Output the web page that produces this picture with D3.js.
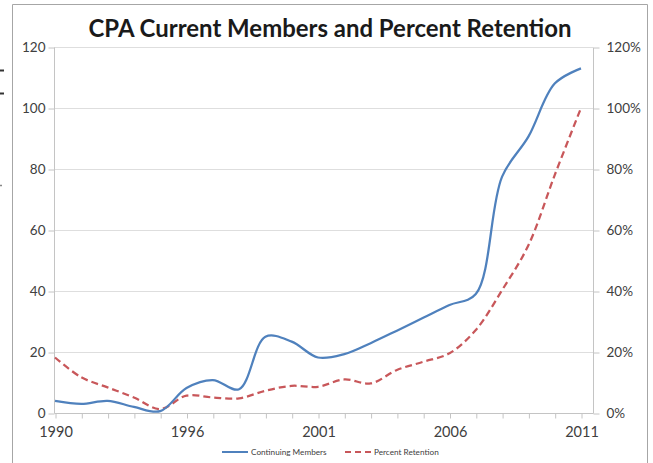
<!DOCTYPE html>
<html>
<head>
<meta charset="utf-8">
<script src="https://cdn.jsdelivr.net/npm/d3@7"></script>
<style>
  html, body { margin: 0; padding: 0; background: #fff; }
  svg { display: block; }
  text { font-family: Lato, "Open Sans", "Liberation Sans", sans-serif; }
</style>
</head>
<body>
<svg id="chart" width="653" height="463"></svg>
<script>
// Category years (one year skipped between 1990 and 1996)
const years = [1990, 1991, 1992, 1993, 1994, 1996, 1997, 1998, 1999, 2000, 2001,
               2002, 2003, 2004, 2005, 2006, 2007, 2008, 2009, 2010, 2011];
// Continuing members (left axis)
const members = [4.0, 3.0, 4.0, 2.0, 0.6, 8.2, 10.8, 7.8, 25.0, 23.4, 18.2,
                 19.3, 22.9, 27.0, 31.2, 35.4, 39.0, 77.5, 90.6, 108.0, 113.0];
// Percent retention (right axis, %)
const retention = [18.2, 11.7, 8.4, 5.1, 1.3, 5.7, 5.1, 4.8, 7.3, 8.9, 8.6,
                   11.0, 9.7, 14.1, 16.8, 19.6, 27.2, 40.3, 55.0, 78.0, 100.0];
const leftTicks = [0, 20, 40, 60, 80, 100, 120];
const rightTicks = [0, 20, 40, 60, 80, 100, 120];
const labelEvery = 5;
const titleText = "CPA Current Members and Percent Retention";
const seriesNames = ["Continuing Members", "Percent Retention"];

const svg = d3.select("#chart");
const plot = { left: 54, right: 593, top: 47, bottom: 413 };

// outer chart frame
svg.append("path")
  .attr("d", `M12.5,${463} V4.5 H647.5 V463`)
  .attr("fill", "none").attr("stroke", "#a6a6a6").attr("stroke-width", 1);

// small marks at the far left edge
svg.append("line").attr("x1", 0).attr("x2", 4).attr("y1", 70.5).attr("y2", 70.5)
  .attr("stroke", "#333").attr("stroke-width", 2);
svg.append("line").attr("x1", 0).attr("x2", 4).attr("y1", 93.5).attr("y2", 93.5)
  .attr("stroke", "#333").attr("stroke-width", 2);
svg.append("line").attr("x1", 0).attr("x2", 2).attr("y1", 185.5).attr("y2", 185.5)
  .attr("stroke", "#888").attr("stroke-width", 1.5);

const x = d3.scaleLinear().domain([0, years.length - 1]).range([55, 581]);
const yL = d3.scaleLinear().domain([0, 120]).range([plot.bottom, plot.top]);
const yR = d3.scaleLinear().domain([0, 120]).range([plot.bottom, plot.top]);

// gridlines
svg.append("g")
  .selectAll("line").data(leftTicks.filter(d => d > 0)).join("line")
  .attr("x1", plot.left).attr("x2", plot.right)
  .attr("y1", d => Math.round(yL(d)) + 0.5).attr("y2", d => Math.round(yL(d)) + 0.5)
  .attr("stroke", "#dedede").attr("stroke-width", 1);

// left axis
const gl = svg.append("g").attr("transform", `translate(${plot.left + 0.5},0.5)`)
  .call(d3.axisLeft(yL).tickValues(leftTicks).tickSize(6).tickPadding(3).tickFormat(d3.format("d")));
gl.select(".domain").attr("stroke", "#c4c4c4").attr("d", `M0,${plot.top}V${plot.bottom}`);
gl.selectAll(".tick line").attr("stroke", "#c4c4c4");
gl.selectAll(".tick text").attr("fill", "#404040").style("font-size", "13.5px");

// right axis
const gr = svg.append("g").attr("transform", `translate(${plot.right + 0.5},0.5)`)
  .call(d3.axisRight(yR).tickValues(rightTicks).tickSize(6).tickPadding(7).tickFormat(d => d + "%"));
gr.select(".domain").attr("stroke", "#c4c4c4").attr("d", `M0,${plot.top}V${plot.bottom}`);
gr.selectAll(".tick line").attr("stroke", "#c4c4c4");
gr.selectAll(".tick text").attr("fill", "#404040").style("font-size", "13.5px");

// bottom axis
const gb = svg.append("g").attr("transform", `translate(0.5,${plot.bottom + 0.5})`)
  .call(d3.axisBottom(x).tickValues(d3.range(years.length)).tickSize(5).tickPadding(8)
    .tickFormat(i => i % labelEvery === 0 ? years[i] : ""));
gb.select(".domain").attr("stroke", "#c4c4c4").attr("d", `M${plot.left},0H${plot.right}`);
gb.selectAll(".tick line").attr("stroke", "#c4c4c4");
gb.selectAll(".tick text").attr("fill", "#404040").style("font-size", "14.5px");

// series
const lineL = d3.line().x((d, i) => x(i)).y(d => yL(d)).curve(d3.curveCatmullRom.alpha(0.5));
const lineR = d3.line().x((d, i) => x(i)).y(d => yR(d)).curve(d3.curveCatmullRom.alpha(0.5));

svg.append("path").datum(retention)
  .attr("d", lineR).attr("fill", "none")
  .attr("stroke", "#c8575a").attr("stroke-width", 2.25)
  .attr("stroke-dasharray", "7,4");

svg.append("path").datum(members)
  .attr("d", lineL).attr("fill", "none")
  .attr("stroke", "#4f81bd").attr("stroke-width", 2.25);

// title
const title = svg.append("text")
  .attr("x", 330).attr("y", 37).attr("text-anchor", "middle")
  .attr("font-weight", "bold").attr("fill", "#1a1a1a")
  .style("font-size", "20px").text(titleText);
const tw = title.node().getComputedTextLength();
title.style("font-size", (20 * 483 / tw).toFixed(2) + "px");

// legend
const legend = svg.append("g").attr("transform", "translate(0,452)");
const items = [
  { name: seriesNames[0], color: "#4f81bd", dash: null, x0: 222 },
  { name: seriesNames[1], color: "#c8575a", dash: "6,4", x0: 345 }
];
items.forEach(it => {
  legend.append("line").attr("x1", it.x0).attr("x2", it.x0 + 26)
    .attr("y1", 0).attr("y2", 0)
    .attr("stroke", it.color).attr("stroke-width", 2)
    .attr("stroke-dasharray", it.dash);
  legend.append("text").attr("x", it.x0 + 29).attr("y", 2.5)
    .attr("fill", "#404040").style("font-size", "8.2px").text(it.name);
});
</script>
</body>
</html>
